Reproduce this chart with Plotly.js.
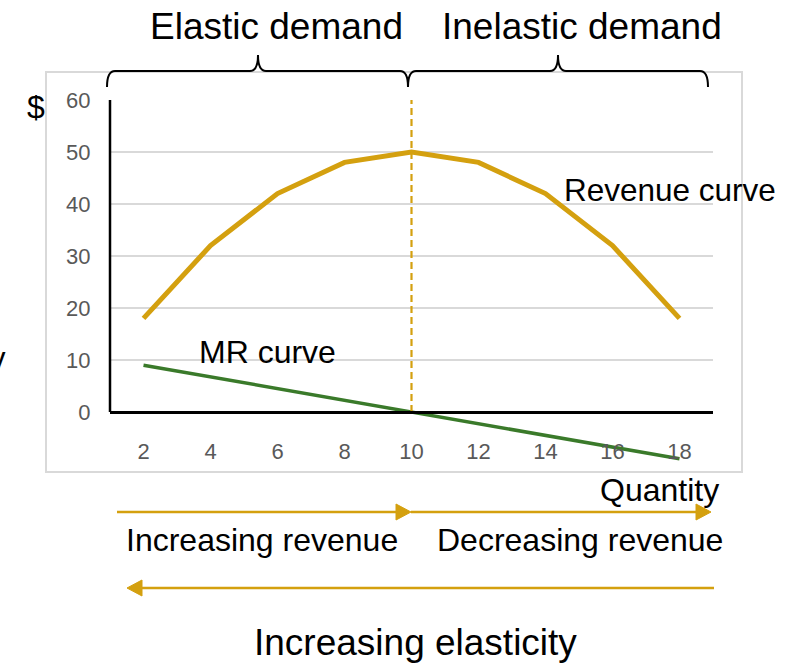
<!DOCTYPE html>
<html>
<head>
<meta charset="utf-8">
<script src="https://cdn.plot.ly/plotly-3.0.1.min.js"></script>
<style>html,body{margin:0;padding:0;background:#fff;}#chart{width:792px;height:663px;}</style>
</head>
<body>
<div id="chart"></div>
<script>
// ---- data ----
const quantity = [2, 4, 6, 8, 10, 12, 14, 16, 18];
const revenue = [18, 32, 42, 48, 50, 48, 42, 32, 18];
const marginalRevenue = [9, 6.75, 4.5, 2.25, 0, -2.25, -4.5, -6.75, -9];
const peakQuantity = [10, 10];
const peakLine = [0, 60];
const yTicks = [0, 10, 20, 30, 40, 50, 60];

// ---- layout helpers (pixel -> paper) ----
const L = 110, R = 713, T = 100, B = 464;
const px = x => (x - L) / (R - L);
const py = y => (B - y) / (B - T);
const P = (x, y) => px(x) + ',' + py(y);

const FONT = 'Liberation Sans, Arial, sans-serif';
const GOLD = '#D4A00F';
const GREEN = '#3A7A2A';

function brace(x0, xm, x1) {
  const yTop = 71, yEnd = 87, yPeak = 55, r = 8;
  return `M ${P(x0, yEnd)} Q ${P(x0, yTop)} ${P(x0 + r, yTop)} L ${P(xm - r, yTop)} ` +
         `Q ${P(xm, yTop)} ${P(xm, yPeak)} Q ${P(xm, yTop)} ${P(xm + r, yTop)} ` +
         `L ${P(x1 - r, yTop)} Q ${P(x1, yTop)} ${P(x1, yEnd)}`;
}

const traces = [
  {x: quantity, y: revenue, type: 'scatter', mode: 'lines', name: 'Revenue',
   line: {color: GOLD, width: 5}},
  {x: quantity, y: marginalRevenue, type: 'scatter', mode: 'lines', name: 'MR',
   line: {color: GREEN, width: 3.5}},
  {x: peakQuantity, y: peakLine, type: 'scatter', mode: 'lines',
   line: {color: GOLD, width: 2.2, dash: '7px,4px'}, hoverinfo: 'skip'}
];

const shapes = [
  // outer light-gray chart box
  {type: 'rect', xref: 'paper', yref: 'paper', x0: px(46), x1: px(742), y0: py(472), y1: py(72),
   line: {color: '#D9D9D9', width: 2}, layer: 'below'},
  // black y axis line (0..60)
  {type: 'line', xref: 'paper', yref: 'y', x0: 0, x1: 0, y0: 0, y1: 60,
   line: {color: '#000', width: 2.5}},
  // braces
  {type: 'path', xref: 'paper', yref: 'paper', path: brace(107, 258, 408), line: {color: '#000', width: 2}},
  {type: 'path', xref: 'paper', yref: 'paper', path: brace(408, 558, 708), line: {color: '#000', width: 2}},
  // arrows
  {type: 'line', xref: 'paper', yref: 'paper', x0: px(117), x1: px(398), y0: py(512), y1: py(512), line: {color: GOLD, width: 2.5}},
  {type: 'path', xref: 'paper', yref: 'paper', path: `M ${P(396, 504)} L ${P(411, 512)} L ${P(396, 520)} Z`, fillcolor: GOLD, line: {color: GOLD, width: 1}},
  {type: 'line', xref: 'paper', yref: 'paper', x0: px(411), x1: px(698), y0: py(512), y1: py(512), line: {color: GOLD, width: 2.5}},
  {type: 'path', xref: 'paper', yref: 'paper', path: `M ${P(696, 504)} L ${P(711, 512)} L ${P(696, 520)} Z`, fillcolor: GOLD, line: {color: GOLD, width: 1}},
  {type: 'line', xref: 'paper', yref: 'paper', x0: px(714), x1: px(140), y0: py(588), y1: py(588), line: {color: GOLD, width: 2.5}},
  {type: 'path', xref: 'paper', yref: 'paper', path: `M ${P(142, 580)} L ${P(127, 588)} L ${P(142, 596)} Z`, fillcolor: GOLD, line: {color: GOLD, width: 1}}
];

function ann(text, x, y, size, xanchor) {
  return {text: text, xref: 'paper', yref: 'paper', x: px(x), y: py(y),
          xanchor: xanchor || 'center', yanchor: 'middle', showarrow: false,
          font: {family: FONT, size: size, color: '#000'}};
}

const annotations = [
  ann('Elastic demand', 276, 26, 37),
  ann('Inelastic demand', 582, 26, 37),
  ann('$', 36, 107, 32),
  ann('Revenue curve', 670, 190, 31.5),
  ann('MR curve', 267, 352, 32),
  ann('Quantity', 659, 490, 32),
  ann('Increasing revenue', 262, 540, 32),
  ann('Decreasing revenue', 580, 540, 32),
  ann('Increasing elasticity', 415, 642, 37),
  ann('y', 8, 358, 31, 'right')
];

const layout = {
  width: 792, height: 663,
  margin: {l: L, r: 792 - R, t: T, b: 663 - B, pad: 0},
  paper_bgcolor: '#fff', plot_bgcolor: '#fff',
  showlegend: false,
  xaxis: {
    type: 'category', categoryorder: 'array', categoryarray: quantity,
    range: [-0.5, quantity.length - 0.5],
    anchor: 'free', position: py(412),
    showline: true, linecolor: '#000', linewidth: 2.5,
    showgrid: false, zeroline: false,
    ticks: 'outside', ticklen: 19, tickcolor: 'rgba(0,0,0,0)',
    tickfont: {family: FONT, size: 22, color: '#595959'}
  },
  yaxis: {
    range: [-10, 60], tickvals: yTicks, ticktext: yTicks.map(String),
    showline: false, zeroline: false,
    showgrid: true, gridcolor: '#D9D9D9', gridwidth: 1.5,
    ticks: 'outside', ticklen: 14, tickcolor: 'rgba(0,0,0,0)',
    tickfont: {family: FONT, size: 22, color: '#595959'}
  },
  shapes: shapes,
  annotations: annotations
};

Plotly.newPlot('chart', traces, layout, {displayModeBar: false, staticPlot: true});
</script>
</body>
</html>
